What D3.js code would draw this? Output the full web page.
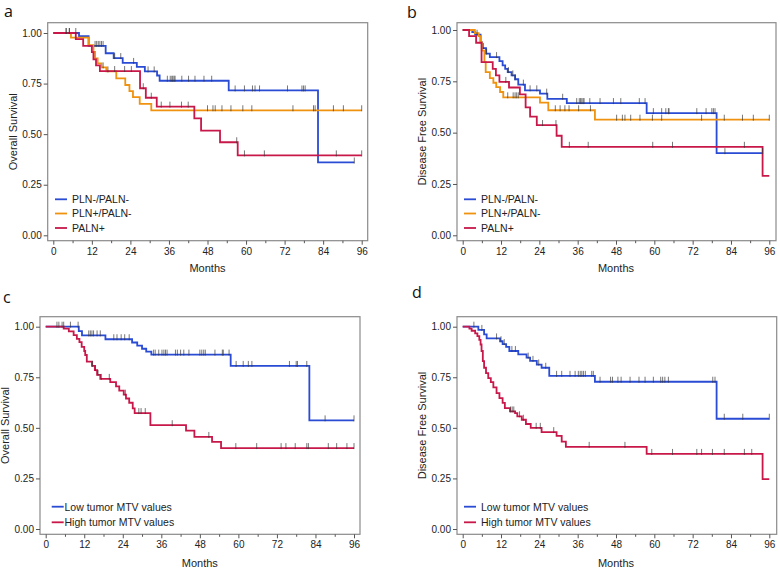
<!DOCTYPE html>
<html><head><meta charset="utf-8">
<script src="https://cdn.jsdelivr.net/npm/d3@7"></script>
<style>
body{margin:0;background:#fff;}
svg{display:block;font-family:"Liberation Sans",Arial,sans-serif;}
</style></head>
<body>
<svg id="chart" width="780" height="571"></svg>
<script>
// ---------- DATA ----------
const monthTicks = [0,12,24,36,48,60,72,84,96];
const survTicks = [0,0.25,0.5,0.75,1];
const legendA = ["PLN-/PALN-","PLN+/PALN-","PALN+"];
const legendC = ["Low tumor MTV values","High tumor MTV values"];

// Panel a (Overall survival, nodal status) : [month, survival after drop]
const aBlueSteps = [[8,0.985],[11,0.936],[16.3,0.90],[18.8,0.876],[21.6,0.852],[26,0.833],[28.5,0.81],[32.3,0.79],[33.1,0.764],[54.6,0.716],[82.4,0.36]];
const aBlueEnd = 93.7;
const aBlueCens = [4,5,7,13,13.5,14,14.5,15,15.5,19.1,21,25,29.5,31.4,35.5,36.4,36.9,37.2,37.6,37.9,40,42.1,44.1,46.9,49.3,56.6,59.5,62,62.8,64.2,72.9,77.4,77.9,78.4,93.7];
const aOrangeSteps = [[5.5,0.977],[11,0.94],[12.5,0.907],[13,0.875],[13.8,0.85],[15,0.83],[16.5,0.81],[19.6,0.776],[22.4,0.743],[23.7,0.713],[24.8,0.683],[26.9,0.65],[30.5,0.618]];
const aOrangeEnd = 96;
const aOrangeCens = [15.5,17,48,49.7,50.4,52.5,55.3,59,61.8,74.6,81,81.5,87.2,90.3,96];
const aRedSteps = [[7,0.97],[9.3,0.936],[12,0.905],[12.5,0.87],[13.3,0.84],[14.5,0.812],[27,0.727],[28.8,0.68],[32.2,0.636],[43.9,0.578],[46,0.517],[51.9,0.46],[57.4,0.395]];
const aRedEnd = 96;
const aRedCens = [4,5,19.1,22.2,24.3,28,30.5,33.6,36.3,39.9,42,57.1,59.5,65.7,88.1,96];

// Panel b (Disease free survival, nodal status)
const bBlueSteps = [[3,0.99],[3.9,0.977],[5.6,0.94],[6,0.912],[7.3,0.885],[8.5,0.868],[11.5,0.848],[12.5,0.828],[13.3,0.811],[14.1,0.795],[15.3,0.779],[16.4,0.76],[17.4,0.734],[19.5,0.706],[24.2,0.69],[26.5,0.665],[32.6,0.644],[57.6,0.595],[79.5,0.40]];
const bBlueEnd = 93.9;
const bBlueCens = [4.5,6.5,7.5,10.6,14.3,15.7,16.4,19,21.1,23.2,26.3,31.3,35.7,36.5,36.9,37.3,37.7,38,39.8,43,47.2,49.5,55.3,57.1,59.7,62.3,63.6,64.4,64.6,73.3,76.2,78,78.5,79,82.1,93.9];
const bOrangeSteps = [[3.8,0.985],[5,0.97],[5.6,0.94],[6,0.90],[6.8,0.844],[7.2,0.795],[8.5,0.766],[9.6,0.743],[10.5,0.722],[11.7,0.698],[12.7,0.672],[24.2,0.646],[26.8,0.609],[41.4,0.563]];
const bOrangeEnd = 96;
const bOrangeCens = [14.1,15.8,16.4,16.9,17.4,29,30.5,32,33.3,36.3,40,48.2,50,50.8,52.6,55.5,59.4,62.3,74.8,81.9,87.6,91,96];
const bRedSteps = [[2,0.97],[4.2,0.938],[5.9,0.844],[9.4,0.811],[10.4,0.779],[11.5,0.747],[14.5,0.72],[17.9,0.686],[19.7,0.623],[21.1,0.578],[23.2,0.537],[29.4,0.485],[31,0.431],[93.9,0.289]];
const bRedEnd = 96;
const bRedCens = [13.5,25,29.2,33.4,39.3,59.5,65.7,88.2];

// Panel c (Overall survival, MTV)
const cBlueSteps = [[10.3,0.978],[11.3,0.957],[18.6,0.938],[26.9,0.922],[28.5,0.906],[30,0.891],[31.3,0.877],[32.9,0.862],[57.6,0.806],[82.1,0.537]];
const cBlueEnd = 96;
const cBlueCens = [3.5,4.1,5.1,5.6,7.7,10.1,13.4,13.9,14.4,14.9,16,17,21.2,22.2,23.5,24.6,26,33.6,34.1,35.2,36.2,36.8,37.3,37.8,40.4,41,42,43,44.6,48,48.6,49.2,49.7,52.7,55,55.3,57.1,59.3,61.5,63.1,64.2,75.9,78,78.4,81.3,87,96];
const cRedSteps = [[5.6,0.99],[7.2,0.977],[8.7,0.958],[9.7,0.94],[10.5,0.924],[11.2,0.9],[12,0.88],[12.3,0.86],[12.8,0.827],[14.4,0.806],[15.3,0.785],[16,0.762],[17,0.742],[20.1,0.726],[21.9,0.705],[22.9,0.684],[24.3,0.664],[25,0.645],[26,0.624],[27.1,0.596],[27.7,0.573],[32.6,0.513],[43.7,0.486],[46.3,0.455],[51.8,0.431],[54.6,0.40]];
const cRedEnd = 96;
const cRedCens = [14.6,15.5,16.3,17.3,19.8,24.8,29,29.7,31,39.4,50.8,59.2,65.7,73.3,74.8,77.7,81.3,81.8,88,90.6,93.8,96];

// Panel d (Disease free survival, MTV)
const dBlueSteps = [[4.9,0.984],[6.7,0.962],[7.5,0.942],[11.7,0.928],[12.5,0.914],[13.6,0.9],[14.6,0.88],[17.4,0.863],[20,0.847],[21.1,0.831],[23.2,0.813],[24.7,0.797],[27.1,0.757],[41.4,0.728],[79.5,0.545]];
const dBlueEnd = 96;
const dBlueCens = [3.5,6,10.6,12,13,15.4,16.5,20.5,22,23.8,26,29.4,31,33.6,35.2,36.2,36.8,37.3,37.8,38.4,40.4,40.9,43,46.3,46.9,48.6,49.6,52.4,55.2,57.1,59.7,62,62.6,63.3,64.4,78.3,79,81.9,87.7,96];
const dRedSteps = [[2.1,0.99],[2.8,0.98],[3.9,0.967],[4.6,0.953],[5.2,0.935],[5.6,0.912],[5.9,0.88],[6.3,0.83],[6.7,0.797],[7.3,0.771],[8,0.746],[8.8,0.726],[9.6,0.70],[10.6,0.672],[11.5,0.647],[12.5,0.623],[13.2,0.598],[14.8,0.581],[16.4,0.573],[17.1,0.557],[18.5,0.54],[19.8,0.519],[21.3,0.5],[24.7,0.479],[29.4,0.46],[31,0.432],[32.3,0.406],[57.6,0.371],[93.9,0.247]];
const dRedEnd = 96;
const dRedCens = [15,15.5,16,17.8,19,23,24.3,28.5,39.6,50.8,59.2,65.7,73.3,74.8,78.2,81.9,88.2,90.5];

// ---------- STYLE ----------
const BLUE = "#2a4bd3", ORANGE = "#ef920f", RED = "#c8184a";

const panels = [
  {letter:"a", lx:4, ly:17, ylab:"Overall Survival", ylx:17,
   frame:[47.7,22.7,367.7,240.7], xr:[53.3,361.7], yr:[235.3,33],
   legend:legendA, legX:55, legTX:72, legY:[199.3,213.5,228],
   curves:[{s:aBlueSteps,e:aBlueEnd,c:aBlueCens,col:BLUE},{s:aOrangeSteps,e:aOrangeEnd,c:aOrangeCens,col:ORANGE},{s:aRedSteps,e:aRedEnd,c:aRedCens,col:RED}],
   colors:[BLUE,ORANGE,RED], mY:276},
  {letter:"b", lx:407, ly:18, ylab:"Disease Free Survival", ylx:426,
   frame:[457,22.7,776,240.7], xr:[462.7,769.3], yr:[235.3,30],
   legend:legendA, legX:464, legTX:481, legY:[199.3,213.5,228],
   curves:[{s:bBlueSteps,e:bBlueEnd,c:bBlueCens,col:BLUE},{s:bOrangeSteps,e:bOrangeEnd,c:bOrangeCens,col:ORANGE},{s:bRedSteps,e:bRedEnd,c:bRedCens,col:RED}],
   colors:[BLUE,ORANGE,RED], mY:276},
  {letter:"c", lx:3, ly:303, ylab:"Overall Survival", ylx:9,
   frame:[40,316.7,360,534.3], xr:[45.7,354], yr:[529,326.7],
   legend:legendC, legX:51.7, legTX:64.5, legY:[506.7,522.3],
   curves:[{s:cBlueSteps,e:cBlueEnd,c:cBlueCens,col:BLUE},{s:cRedSteps,e:cRedEnd,c:cRedCens,col:RED}],
   colors:[BLUE,RED], mY:571},
  {letter:"d", lx:412, ly:298, ylab:"Disease Free Survival", ylx:426,
   frame:[457,316.7,776.7,534.3], xr:[462.7,769.3], yr:[529,326.7],
   legend:legendC, legX:464, legTX:481, legY:[506.7,522.3],
   curves:[{s:dBlueSteps,e:dBlueEnd,c:dBlueCens,col:BLUE},{s:dRedSteps,e:dRedEnd,c:dRedCens,col:RED}],
   colors:[BLUE,RED], mY:571}
];

const svg = d3.select("#chart");

panels.forEach(p => {
  const g = svg.append("g");
  const [fx0,fy0,fx1,fy1] = p.frame;
  const x = d3.scaleLinear().domain([0,96]).range(p.xr);
  const y = d3.scaleLinear().domain([0,1]).range(p.yr);

  // frame
  g.append("rect").attr("x",fx0).attr("y",fy0).attr("width",fx1-fx0).attr("height",fy1-fy0)
    .attr("fill","none").attr("stroke","#8a8a8a").attr("stroke-width",1.2);

  // x axis
  const xAxis = d3.axisBottom(x).tickValues(monthTicks).tickSize(4).tickPadding(3).tickFormat(d3.format("d"));
  const xa = g.append("g").attr("transform",`translate(0,${fy1})`).call(xAxis);
  xa.select(".domain").remove();
  xa.selectAll("line").attr("stroke","#555");
  xa.selectAll("text").attr("font-size",10).attr("fill","#222").attr("font-family","Liberation Sans, Arial, sans-serif");
  const xm = g.append("g").attr("transform",`translate(0,${fy1})`)
    .call(d3.axisBottom(x).tickValues(d3.range(6,96,12)).tickSize(2.5).tickFormat(""));
  xm.select(".domain").remove(); xm.selectAll("line").attr("stroke","#555");

  // y axis
  const yAxis = d3.axisLeft(y).tickValues(survTicks).tickSize(4).tickPadding(2).tickFormat(d3.format(".2f"));
  const ya = g.append("g").attr("transform",`translate(${fx0},0)`).call(yAxis);
  ya.select(".domain").remove();
  ya.selectAll("line").attr("stroke","#555");
  ya.selectAll("text").attr("font-size",10).attr("fill","#222").attr("font-family","Liberation Sans, Arial, sans-serif");

  // labels
  g.append("text").attr("x",(p.xr[0]+p.xr[1])/2).attr("y",p.mY-4).attr("text-anchor","middle")
    .attr("font-size",11).attr("fill","#222").text("Months");
  g.append("text").attr("transform",`translate(${p.ylx},${(fy0+fy1)/2}) rotate(-90)`).attr("text-anchor","middle")
    .attr("font-size",11).attr("fill","#222").text(p.ylab);
  g.append("text").attr("x",p.lx).attr("y",p.ly).attr("font-size",16)
    .attr("font-family","Open Sans, Noto Sans, sans-serif").attr("fill","#111").text(p.letter);

  // curves
  const line = d3.line().x(d=>x(d[0])).y(d=>y(d[1])).curve(d3.curveStepAfter);
  p.curves.forEach(cv => {
    const pts = [[0,1]].concat(cv.s);
    pts.push([cv.e, cv.s[cv.s.length-1][1]]);
    g.append("path").datum(pts).attr("d",line).attr("fill","none")
      .attr("stroke",cv.col).attr("stroke-width",1.8).attr("stroke-linejoin","miter");
  });
  p.curves.forEach(cv => {
    const survAt = t => { let v=1; cv.s.forEach(st => { if (st[0] <= t) v = st[1]; }); return v; };
    g.selectAll(null).data(cv.c).enter().append("line")
      .attr("x1",d=>x(d)).attr("x2",d=>x(d))
      .attr("y1",d=>y(survAt(d))-5).attr("y2",d=>y(survAt(d))+1)
      .attr("stroke","#333").attr("stroke-opacity",0.75).attr("stroke-width",0.9);
  });

  // legend
  p.legend.forEach((name,i) => {
    const ly = p.legY[i];
    g.append("line").attr("x1",p.legX).attr("x2",p.legX+12).attr("y1",ly).attr("y2",ly)
      .attr("stroke",p.colors[i]).attr("stroke-width",1.8);
    g.append("text").attr("x",p.legTX).attr("y",ly+3.8).attr("font-size",10.5).attr("fill","#222").text(name);
  });
});
</script>
</body></html>
